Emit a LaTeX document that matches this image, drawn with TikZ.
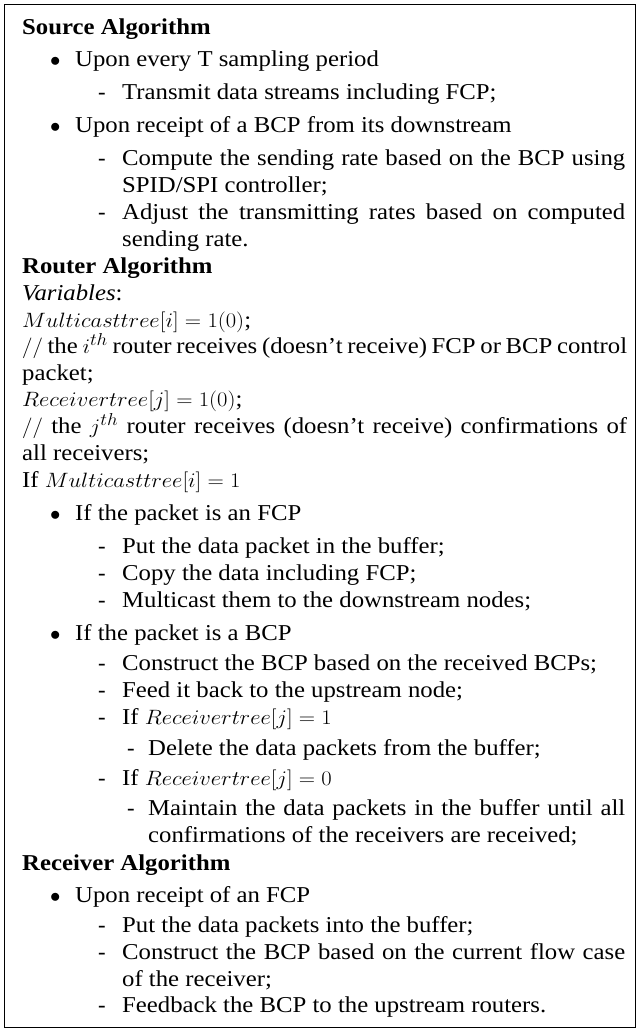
\documentclass[tikz,border=0pt]{standalone}
\usepackage{graphicx}
\usepackage{fontspec}
\setmainfont{Liberation Serif}
\begin{document}
\begin{tikzpicture}[x=1pt,y=-1pt,
  txt/.style={inner sep=0pt,anchor=base west,font=\fontsize{22.7}{26}\selectfont},
  frame/.style={draw=black,line width=1.1pt}]
\useasboundingbox (0,0) rectangle (639,1032);
\node[frame,inner sep=0pt,minimum width=631pt,minimum height=1023pt,anchor=north west] (box) at (4,4) {};
\newcommand\Ln[4]{\node[txt] (#1) at (#2,#3) {\scalebox{1.09}[1]{#4}};}
\newcommand\Bu[3]{\node[txt] (#1) at (#2,#3) {$\bullet$};}
\newcommand\Da[3]{\node[txt] (#1) at (#2,#3) {-};}
\newcommand\Jw[2]{\makebox[#1][s]{#2}}
% Source
\Ln{t1}{22}{35}{\textbf{Source Algorithm}}
\Bu{b1}{50}{67}\Ln{l2}{75}{67}{Upon every T sampling period}
\Da{d1}{98}{100}\Ln{l3}{122}{100}{Transmit data streams including FCP;}
\Bu{b2}{50}{133}\Ln{l4}{75}{133}{Upon receipt of a BCP from its downstream}
\Da{d2}{98}{166}\Ln{l5}{122}{166}{\Jw{461.5pt}{Compute the sending rate based on the BCP using}}
\Ln{l6}{122}{193}{SPID/SPI controller;}
\Da{d3}{98}{220}\Ln{l7}{122}{220}{\Jw{461.5pt}{Adjust the transmitting rates based on computed}}
\Ln{l8}{122}{246}{sending rate.}
% Router
\Ln{t2}{22}{273}{\textbf{Router Algorithm}}
\Ln{l10}{22}{300}{\textit{Variables}:}
\Ln{l11}{22}{327}{$Multicasttree[i]=1(0)$;}
\Ln{l12}{22}{353}{\Jw{555pt}{$//$ the $i^{th}$ router receives (doesn't receive) FCP or BCP control}}
\Ln{l13}{22}{380}{packet;}
\Ln{l14}{22}{406}{$Receivertree[j]=1(0)$;}
\Ln{l15}{22}{433}{\Jw{555pt}{$//$ the $j^{th}$ router receives (doesn't receive) confirmations of}}
\Ln{l16}{22}{460}{all receivers;}
\Ln{l17}{22}{487}{If $Multicasttree[i]=1$}
\Bu{b3}{50}{520}\Ln{l18}{75}{520}{If the packet is an FCP}
\Da{d4}{98}{553}\Ln{l19}{122}{553}{Put the data packet in the buffer;}
\Da{d5}{98}{580}\Ln{l20}{122}{580}{Copy the data including FCP;}
\Da{d6}{98}{607}\Ln{l21}{122}{607}{Multicast them to the downstream nodes;}
\Bu{b4}{50}{640}\Ln{l22}{75}{640}{If the packet is a BCP}
\Da{d7}{98}{670}\Ln{l23}{122}{670}{Construct the BCP based on the received BCPs;}
\Da{d8}{98}{697}\Ln{l24}{122}{697}{Feed it back to the upstream node;}
\Da{d9}{98}{724}\Ln{l25}{122}{724}{If $Receivertree[j]=1$}
\Da{d10}{127}{755}\Ln{l26}{148}{755}{Delete the data packets from the buffer;}
\Da{d11}{98}{785}\Ln{l27}{122}{785}{If $Receivertree[j]=0$}
\Da{d12}{127}{815}\Ln{l28}{148}{815}{\Jw{437.6pt}{Maintain the data packets in the buffer until all}}
\Ln{l29}{148}{842}{confirmations of the receivers are received;}
% Receiver
\Ln{t3}{22}{870}{\textbf{Receiver Algorithm}}
\Bu{b5}{50}{902}\Ln{l31}{75}{902}{Upon receipt of an FCP}
\Da{d13}{98}{932}\Ln{l32}{122}{932}{Put the data packets into the buffer;}
\Da{d14}{98}{959}\Ln{l33}{122}{959}{\Jw{461.5pt}{Construct the BCP based on the current flow case}}
\Ln{l34}{122}{986}{of the receiver;}
\Da{d15}{98}{1012}\Ln{l35}{122}{1012}{Feedback the BCP to the upstream routers.}
\end{tikzpicture}
\end{document}
